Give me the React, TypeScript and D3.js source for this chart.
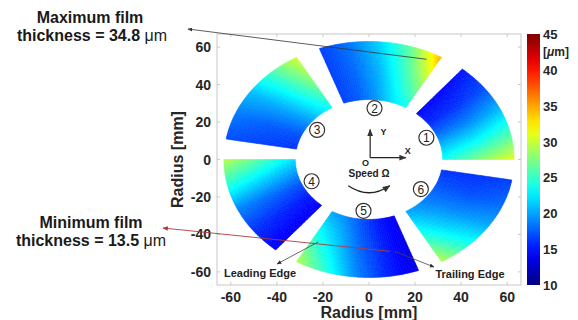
import React from 'react';
import * as d3 from 'd3';

const W = 578;
const H = 320;

// pad geometry [deg] and [mm]
const padStart = [0, 60, 120, 180, 240, 300];
const padSpan = 50;
const innerR = 32;
const outerR = 63;
const padNames = ['1', '2', '3', '4', '5', '6'];
const labelR = 27.5;

// film thickness [um]
// rows: inner, mid, outer radius; columns: start angle -> end angle
const pad1 = [[23.5, 21, 18, 15.5, 14.5], [27.5, 23, 19, 16, 14.5], [31, 26, 21, 17, 15]];
const pad2 = [[23.5, 22, 19.5, 17.5, 16.5], [29, 24.5, 20.5, 18, 16.5], [34.8, 27, 22, 18.5, 16.5]];
const pad3 = [[23.5, 21.5, 19, 17, 16], [27.5, 23.5, 20, 17.5, 16.5], [30.5, 25.5, 21, 18.5, 17]];
const pad4 = [[22, 19.5, 17, 15, 14], [26, 22, 18, 15.5, 14], [29.5, 24.5, 19, 16, 14]];
const pad5 = [[20, 19, 17, 15, 14], [24.5, 21.5, 18, 15.5, 13.5], [29.5, 24.5, 19, 15.5, 13.5]];
const pad6 = [[20, 19, 18, 17, 16], [24.5, 21.5, 19, 17, 16], [29.5, 24.5, 20.5, 18, 16.5]];
const pads = [pad1, pad2, pad3, pad4, pad5, pad6];

const axisTicks = [-60, -40, -20, 0, 20, 40, 60];
const colorTicks = [10, 15, 20, 25, 30, 35, 40, 45];

const FONT = '"Liberation Sans", Arial, sans-serif';

// MATLAB style jet
const jet = (n: number) => {
  const c = (v: number) => Math.round(255 * Math.max(0, Math.min(1, v)));
  return `rgb(${c(1.5 - Math.abs(4 * n - 3))},${c(1.5 - Math.abs(4 * n - 2))},${c(1.5 - Math.abs(4 * n - 1))})`;
};

const sample = (grid: number[][], s: number, t: number) => {
  const rs = s * (grid.length - 1);
  const cs = t * (grid[0].length - 1);
  const r0 = Math.min(Math.floor(rs), grid.length - 2);
  const c0 = Math.min(Math.floor(cs), grid[0].length - 2);
  const fr = rs - r0, fc = cs - c0;
  const a = grid[r0][c0] * (1 - fc) + grid[r0][c0 + 1] * fc;
  const b = grid[r0 + 1][c0] * (1 - fc) + grid[r0 + 1][c0 + 1] * fc;
  return a * (1 - fr) + b * fr;
};

export default function App() {
  const x = d3.scaleLinear().domain([-66, 66]).range([217, 521]);
  const y = d3.scaleLinear().domain([-67, 67]).range([285, 34]);
  const cnorm = d3.scaleLinear().domain([10, 45]).range([0, 1]).clamp(true);
  const cy = d3.scaleLinear().domain([10, 45]).range([285, 34]);

  const pt = (r: number, deg: number) => {
    const a = (deg * Math.PI) / 180;
    return [x(r * Math.cos(a)), y(r * Math.sin(a))];
  };

  const NA = 44, NR = 16;
  const cells: { d: string; fill: string }[] = [];
  pads.forEach((grid, k) => {
    for (let i = 0; i < NA; i++) {
      for (let j = 0; j < NR; j++) {
        const t0 = i / NA, t1 = (i + 1) / NA;
        const s0 = j / NR, s1 = (j + 1) / NR;
        const a0 = padStart[k] + t0 * padSpan, a1 = padStart[k] + t1 * padSpan;
        const r0 = innerR + s0 * (outerR - innerR), r1 = innerR + s1 * (outerR - innerR);
        const p = [pt(r0, a0), pt(r1, a0), pt(r1, a1), pt(r0, a1)];
        const v = sample(grid, (s0 + s1) / 2, (t0 + t1) / 2);
        cells.push({ d: 'M' + p.map(q => q.join(',')).join('L') + 'Z', fill: jet(cnorm(v)) });
      }
    }
  });

  const gradStops = d3.range(0, 1.0001, 0.05);

  const tickLen = 3;
  const boxColor = '#c8c8c8';

  return (
    <svg width={W} height={H} style={{ position: 'absolute', left: 0, top: 0, background: '#fff' }} fontFamily={FONT}>
      <defs>
        <linearGradient id="cbar" x1="0" y1="1" x2="0" y2="0">
          {gradStops.map(s => <stop key={s} offset={s} stopColor={jet(s)} />)}
        </linearGradient>
        <marker id="ah" viewBox="0 0 10 10" refX="9" refY="5" markerWidth="6" markerHeight="6" orient="auto-start-reverse">
          <path d="M0,1L10,5L0,9Z" fill="#333" />
        </marker>
        <marker id="ahr" viewBox="0 0 10 10" refX="9" refY="5" markerWidth="6" markerHeight="6" orient="auto-start-reverse">
          <path d="M0,1L10,5L0,9Z" fill="#b03a3a" />
        </marker>
      </defs>

      {/* pads */}
      <g>
        {cells.map((c, i) => <path key={i} d={c.d} fill={c.fill} stroke={c.fill} strokeWidth={0.6} />)}
      </g>

      {/* axes box */}
      <rect x={x(-66)} y={y(67)} width={x(66) - x(-66)} height={y(-67) - y(67)} fill="none" stroke={boxColor} strokeWidth={1} />
      {axisTicks.map(v => (
        <g key={'t' + v} stroke={boxColor} strokeWidth={1}>
          <line x1={x(v)} x2={x(v)} y1={y(-67)} y2={y(-67) - tickLen} />
          <line x1={x(v)} x2={x(v)} y1={y(67)} y2={y(67) + tickLen} />
          <line x1={x(-66)} x2={x(-66) + tickLen} y1={y(v)} y2={y(v)} />
          <line x1={x(66)} x2={x(66) - tickLen} y1={y(v)} y2={y(v)} />
        </g>
      ))}
      {axisTicks.map(v => (
        <text key={'xl' + v} x={x(v)} y={y(-67) + 17} textAnchor="middle" fontSize={14} fontWeight="bold" fill="#262626">{v}</text>
      ))}
      {axisTicks.map(v => (
        <text key={'yl' + v} x={x(-66) - 6} y={y(v) + 5} textAnchor="end" fontSize={14} fontWeight="bold" fill="#262626">{v}</text>
      ))}
      <text x={x(0)} y={318} textAnchor="middle" fontSize={16} fontWeight="bold" fill="#262626">Radius [mm]</text>
      <text transform={`translate(183,${y(0)}) rotate(-90)`} textAnchor="middle" fontSize={16} fontWeight="bold" fill="#262626">Radius [mm]</text>

      {/* colorbar */}
      <rect x={527} y={cy(45)} width={13} height={cy(10) - cy(45)} fill="url(#cbar)" />
      {colorTicks.map(v => (
        <text key={'c' + v} x={543} y={cy(v) + 5} fontSize={13} fontWeight="bold" fill="#262626">{v}</text>
      ))}
      <text x={543} y={cy(45) + 22} fontSize={12} fontWeight="bold" fill="#262626">[<tspan fontStyle="italic">μ</tspan>m]</text>

      {/* pad numbers */}
      {padNames.map((n, k) => {
        const [px, py] = pt(labelR, padStart[k] + padSpan / 2);
        return (
          <g key={'p' + n}>
            <circle cx={px} cy={py} r={7.5} fill="none" stroke="#333" strokeWidth={1.2} />
            <text x={px} y={py + 4.5} textAnchor="middle" fontSize={12} fill="#222">{n}</text>
          </g>
        );
      })}

      {/* coordinate glyph */}
      <g stroke="#222" strokeWidth={1.2} fill="none">
        <line x1={x(0.5)} y1={y(1)} x2={x(0.5)} y2={y(16)} markerEnd="url(#ah)" />
        <line x1={x(0.5)} y1={y(1)} x2={x(16)} y2={y(1)} markerEnd="url(#ah)" />
      </g>
      <text x={x(5)} y={y(13)} fontSize={9} fontWeight="bold" fill="#222">Y</text>
      <text x={x(15.5)} y={y(3)} fontSize={9} fontWeight="bold" fill="#222">X</text>
      <text x={x(-3)} y={y(-3.5)} fontSize={9} fontWeight="bold" fill="#222">O</text>

      {/* rotation */}
      <text x={x(0)} y={y(-9.5)} textAnchor="middle" fontSize={10} fontWeight="bold" fill="#222">Speed Ω</text>
      <path d={`M${x(-9)},${y(-14)} Q${x(0)},${y(-21.5)} ${x(9)},${y(-14)}`} fill="none" stroke="#222" strokeWidth={1.3} markerEnd="url(#ah)" />

      {/* annotations */}
      <text x={90} y={23} textAnchor="middle" fontSize={16} fontWeight="bold" fill="#1a1a1a">Maximum film</text>
      <text x={92} y={41} textAnchor="middle" fontSize={16} fontWeight="bold" fill="#1a1a1a">thickness = 34.8 <tspan fontWeight="normal">μm</tspan></text>
      <line x1={188} y1={29} x2={x(25)} y2={y(53.5)} stroke="#333" strokeWidth={0.8} markerStart="url(#ah)" />

      <text x={91} y={228} textAnchor="middle" fontSize={16} fontWeight="bold" fill="#1a1a1a">Minimum film</text>
      <text x={91} y={246} textAnchor="middle" fontSize={16} fontWeight="bold" fill="#1a1a1a">thickness = 13.5 <tspan fontWeight="normal">μm</tspan></text>
      <line x1={163} y1={228} x2={x(9)} y2={y(-49)} stroke="#b03a3a" strokeWidth={0.9} markerStart="url(#ahr)" />

      <text x={260} y={277} textAnchor="middle" fontSize={11} fontWeight="bold" fill="#222">Leading Edge</text>
      <line x1={277} y1={264} x2={x(-22)} y2={y(-44)} stroke="#444" strokeWidth={0.8} markerStart="url(#ah)" />
      <text x={470} y={278} textAnchor="middle" fontSize={11} fontWeight="bold" fill="#222">Trailing Edge</text>
      <line x1={434} y1={267} x2={x(11)} y2={y(-49)} stroke="#444" strokeWidth={0.8} markerStart="url(#ah)" />
    </svg>
  );
}
